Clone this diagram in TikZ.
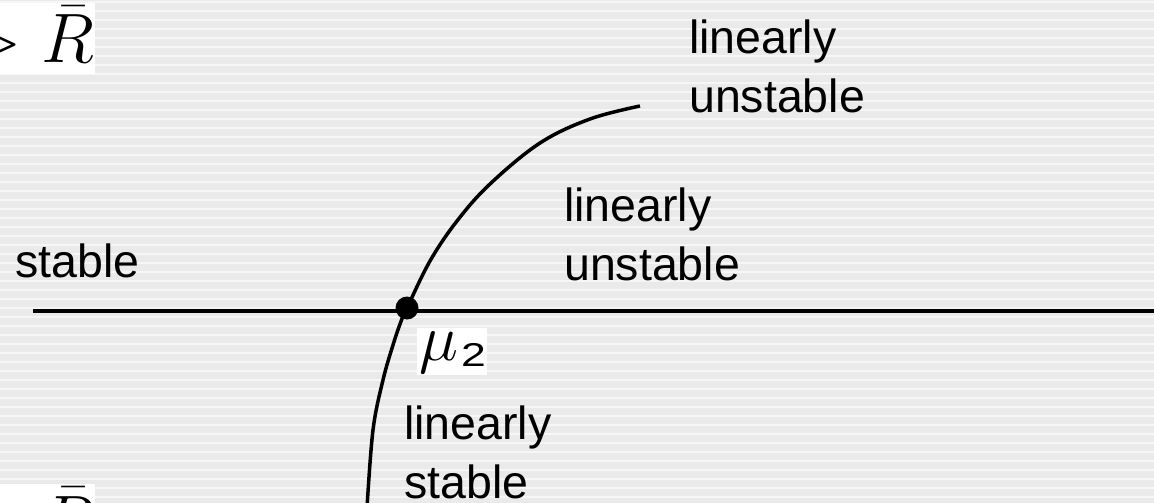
\RequirePackage{fix-cm}
\documentclass[tikz,border=0pt]{standalone}
\usepackage{graphicx}
\usepackage[no-math]{fontspec}
\setmainfont{Liberation Sans}
\definecolor{bgray}{HTML}{EAEAEA}
\definecolor{lgray}{HTML}{F6F6F6}
\begin{document}
\begin{tikzpicture}[x=1pt,y=-1pt,
  lbl/.style={anchor=base west, inner sep=0pt, font=\fontsize{46.5}{56}\selectfont},
  bigmath/.style={inner sep=0pt, font=\fontsize{70}{80}\selectfont}]
\useasboundingbox (0,0) rectangle (1154,503);
% striped background
\fill[bgray] (0,0) rectangle (1154,503);
\foreach \k in {0,...,55} {\fill[lgray] (0,{1+9*\k}) rectangle (1154,{2.8+9*\k});}
% top-left R bar (clipped)
\fill[white] (0,3) rectangle (95,74);
\begin{scope}
  \clip (0,3) rectangle (95,74);
  \node[bigmath, anchor=base east] (rtop) at (94,63) {$>\bar{R}$};
\end{scope}
% bottom-left R bar (clipped)
\fill[white] (0,484) rectangle (95,503);
\begin{scope}
  \clip (0,484) rectangle (95,503);
  \node[bigmath, anchor=base east] (rbot) at (94,544) {$\bar{R}$};
\end{scope}
% axis line and curve
\coordinate (hl) at (33,311);
\coordinate (hr) at (1160,311);
\draw[line width=3.5pt] (hl) -- (hr);
\draw[line width=3.5pt] plot[smooth, tension=0.6] coordinates {(367,508) (373,430) (383,380) (393,345) (401.5,320) (407,308) (430,261) (457,221) (490,184) (540,143) (590,119) (640,106)};
\node[circle, fill=black, inner sep=0pt, minimum size=23pt] (dot) at (407,308) {};
% mu_2 label
\fill[white] (417,328) rectangle (487,375);
\node[inner sep=0pt, anchor=base west] (mu) at (419,360)
  {\fontsize{66}{70}\selectfont$\mu$\kern3pt\raisebox{-6.7pt}{\scalebox{1.35}[1]{\fontsize{33}{36}\selectfont 2}}};
% labels
\node[lbl] (t1) at (689,54) {linearly};
\node[lbl] (t2) at (689,112) {unstable};
\node[lbl] (m1) at (564,221) {linearly};
\node[lbl] (m2) at (564,280) {unstable};
\node[lbl] (s) at (15,277) {stable};
\node[lbl] (l1) at (404,439) {linearly};
\node[lbl] (l2) at (404,498) {stable};
\end{tikzpicture}
\end{document}
